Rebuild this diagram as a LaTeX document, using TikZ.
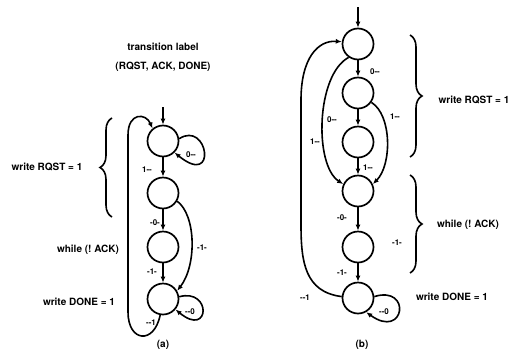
\documentclass[tikz,border=0pt]{standalone}
\usepackage{fontspec}
\setmainfont{TeX Gyre Heros}
\usetikzlibrary{arrows.meta,decorations.pathreplacing}
\begin{document}
\frenchspacing
\begin{tikzpicture}[x=1pt,y=-1pt,
  st/.style={circle,draw,line width=1.7pt,minimum size=31pt,inner sep=0pt},
  tr/.style={line width=1.6pt,-{Latex[length=6pt,width=5pt]}},
  lab/.style={font=\bfseries\fontsize{8}{9}\selectfont,inner sep=0pt},
  txt/.style={font=\bfseries\fontsize{10}{12}\selectfont,inner sep=0pt},
  br/.style={line width=1.6pt,decorate,decoration={brace,amplitude=12pt}}]
\useasboundingbox (0,0) rectangle (518,356);
% ---------- (a) ----------
\node[txt] (t1) at (163,47) {transition label};
\node[txt] (t2) at (163,67) {(RQST, ACK, DONE)};
\node[st] (a1) at (163,141) {};
\node[st] (a2) at (163,193) {};
\node[st] (a3) at (163,247) {};
\node[st] (a4) at (163,299) {};
\coordinate (ain) at (163,107);
\draw[tr] (ain) -- (a1);
\draw[tr] (a1) -- (a2);
\draw[tr] (a2) -- (a3);
\draw[tr] (a3) -- (a4);
\draw[tr] (a1.8) .. controls (208,120) and (218,188) .. (a1.-45);
\draw[tr] (a2.-30) .. controls (196,215) and (197,265) .. (a4.30);
\draw[tr] (a4.8) .. controls (212,288) and (210,338) .. (a4.-40);
\draw[tr] (a4.-100) .. controls (154,345) and (128,342) .. (128,312) -- (128,135) .. controls (128,112) and (146,113) .. (a1.130);
\node[lab] (la1) at (147,170) {1-{}-};
\node[lab] (la2) at (191,155) {0-{}-};
\node[lab] (la3) at (155,223) {-0-};
\node[lab] (la4) at (202,248) {-1-};
\node[lab] (la5) at (152,272) {-1-};
\node[lab] (la6) at (190,312) {-{}-0};
\node[lab] (la7) at (151,323) {-{}-1};
\draw[br] (112,217) -- (112,118);
\node[txt] (wa1) at (47,167) {write RQST = 1};
\node[txt] (wa2) at (88,250) {while (! ACK)};
\node[txt] (wa3) at (79,302) {write DONE = 1};
\node[txt] (ca) at (163,345) {(a)};
% ---------- (b) ----------
\node[st] (b1) at (358,44) {};
\node[st] (b2) at (358,93) {};
\node[st] (b3) at (358,142) {};
\node[st] (b4) at (358,191) {};
\node[st] (b5) at (358,247) {};
\node[st] (b6) at (358,298) {};
\coordinate (bin) at (358,7);
\draw[tr] (bin) -- (b1);
\draw[tr] (b1) -- (b2);
\draw[tr] (b2) -- (b3);
\draw[tr] (b3) -- (b4);
\draw[tr] (b4) -- (b5);
\draw[tr] (b5) -- (b6);
\draw[tr] (b2.-35) .. controls (392,115) and (392,165) .. (b4.25);
\draw[tr] (b1.-125) .. controls (316,75) and (314,165) .. (b4.155);
\draw[tr] (b6.175) .. controls (305,292) and (301,262) .. (301,225) -- (301,100) .. controls (301,58) and (318,40) .. (b1.172);
\draw[tr] (b6.5) .. controls (412,285) and (405,340) .. (b6.-60);
\node[lab] (lb1) at (375,72) {0-{}-};
\node[lab] (lb2) at (332,120) {0-{}-};
\node[lab] (lb3) at (395,117) {1-{}-};
\node[lab] (lb4) at (315,142) {1-{}-};
\node[lab] (lb5) at (368,168) {1-{}-};
\node[lab] (lb6) at (342,218) {-0-};
\node[lab] (lb7) at (397,243) {-1-};
\node[lab] (lb8) at (342,273) {-1-};
\node[lab] (lb9) at (305,298) {-{}-1};
\node[lab] (lb10) at (384,312) {-{}-0};
\draw[br] (410,35) -- (410,157);
\draw[br] (410,175) -- (410,273);
\node[txt] (wb1) at (474,100) {write RQST = 1};
\node[txt] (wb2) at (468,225) {while (! ACK)};
\node[txt] (wb3) at (452,297) {write DONE = 1};
\node[txt] (cb) at (362,345) {(b)};
\end{tikzpicture}
\end{document}
